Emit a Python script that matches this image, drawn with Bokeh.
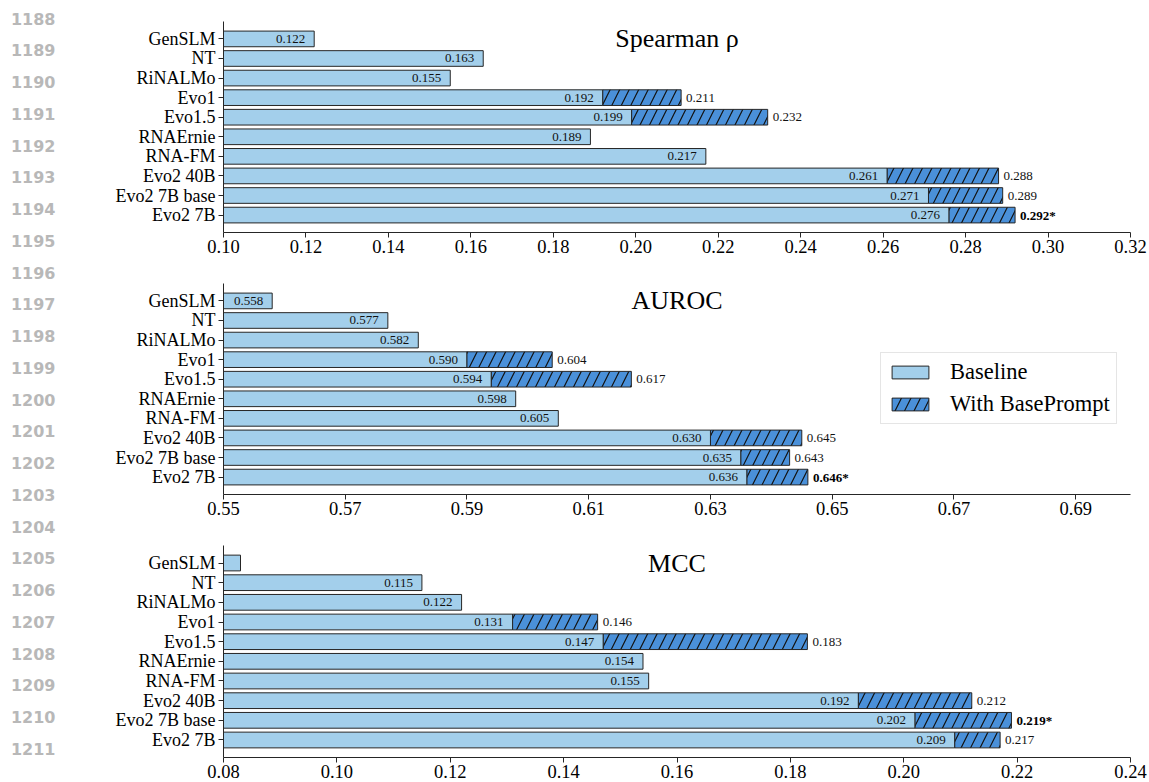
from bokeh.plotting import figure
from bokeh.layouts import row, column
from bokeh.models import (Range1d, FixedTicker, Legend, LegendItem,
                          NumeralTickFormatter, ColumnDataSource)
from bokeh.core.properties import value
from bokeh.embed import file_html
from bokeh.resources import INLINE

# ---------------- data ----------------
models = ["GenSLM", "NT", "RiNALMo", "Evo1", "Evo1.5", "RNAErnie", "RNA-FM",
          "Evo2 40B", "Evo2 7B base", "Evo2 7B"]

spearman_base = [0.122, 0.163, 0.155, 0.192, 0.199, 0.189, 0.217, 0.261, 0.271, 0.276]
spearman_prompt = [None, None, None, 0.211, 0.232, None, None, 0.288, 0.289, 0.292]
spearman_ticks = [0.10, 0.12, 0.14, 0.16, 0.18, 0.20, 0.22, 0.24, 0.26, 0.28, 0.30, 0.32]
spearman_xlim = [0.10, 0.32]

auroc_base = [0.558, 0.577, 0.582, 0.590, 0.594, 0.598, 0.605, 0.630, 0.635, 0.636]
auroc_prompt = [None, None, None, 0.604, 0.617, None, None, 0.645, 0.643, 0.646]
auroc_ticks = [0.55, 0.57, 0.59, 0.61, 0.63, 0.65, 0.67, 0.69]
auroc_xlim = [0.55, 0.699]

mcc_base = [0.083, 0.115, 0.122, 0.131, 0.147, 0.154, 0.155, 0.192, 0.202, 0.209]
mcc_prompt = [None, None, None, 0.146, 0.183, None, None, 0.212, 0.219, 0.217]
mcc_ticks = [0.08, 0.10, 0.12, 0.14, 0.16, 0.18, 0.20, 0.22, 0.24]
mcc_xlim = [0.08, 0.24]

titles = ["Spearman ρ", "AUROC", "MCC"]
line_numbers = list(range(1188, 1212))

# ---------------- style ----------------
SERIF = "Liberation Serif"
BASE_COLOR = "#a3cfeb"
PROMPT_COLOR = "#4a90d9"
EDGE = "#262626"
AX = "#262626"
LN_W = 60
PW = 1149 - LN_W

panels = [
    (titles[0], spearman_base, spearman_prompt, spearman_ticks, spearman_xlim),
    (titles[1], auroc_base, auroc_prompt, auroc_ticks, auroc_xlim),
    (titles[2], mcc_base, mcc_prompt, mcc_ticks, mcc_xlim),
]
heights = [262, 262, 258]
borders_bottom = [30, 30, 25]


def make_panel(k):
    title, base, prompt, ticks, xlim = panels[k]
    n = len(models)
    idx = list(range(n))
    p = figure(width=PW, height=heights[k],
               x_range=Range1d(xlim[0], xlim[1]),
               y_range=Range1d(n - 1 + 0.89, -0.89),
               output_backend="svg", toolbar_location=None,
               min_border_left=163, min_border_right=19,
               min_border_top=21, min_border_bottom=borders_bottom[k])
    p.outline_line_color = None
    p.xgrid.visible = False
    p.ygrid.visible = False
    p.background_fill_color = "white"

    bsrc = ColumnDataSource(dict(y=idx, left=[xlim[0] - 1] * n, right=base))
    rb = p.hbar(y="y", left="left", right="right", height=0.8, source=bsrc,
                fill_color=BASE_COLOR, line_color=EDGE, line_width=1)

    py = [i for i in idx if prompt[i] is not None]
    psrc = ColumnDataSource(dict(y=py, left=[base[i] for i in py],
                                 right=[prompt[i] for i in py]))
    rp = p.hbar(y="y", left="left", right="right", height=0.8, source=psrc,
                fill_color=PROMPT_COLOR, line_color=EDGE, line_width=1,
                hatch_pattern="/", hatch_color="#111111", hatch_weight=1.2,
                hatch_scale=19)

    # baseline value labels (inside bars, right aligned)
    span = xlim[1] - xlim[0]
    lab_i = [i for i in idx if base[i] - xlim[0] > 0.04 * span]
    p.text(x=[base[i] for i in lab_i], y=lab_i,
           text=[f"{base[i]:.3f}" for i in lab_i],
           x_offset=-9, text_align="right", text_baseline="middle",
           text_font=value(SERIF), text_font_size="13px", text_color="#111111")

    # prompt value labels
    best = max(v for v in prompt if v is not None)
    norm_i = [i for i in py if prompt[i] != best]
    best_i = [i for i in py if prompt[i] == best]
    p.text(x=[prompt[i] for i in norm_i], y=norm_i,
           text=[f"{prompt[i]:.3f}" for i in norm_i],
           x_offset=5, text_align="left", text_baseline="middle",
           text_font=value(SERIF), text_font_size="13px", text_color="#111111")
    p.text(x=[prompt[i] for i in best_i], y=best_i,
           text=[f"{prompt[i]:.3f}*" for i in best_i],
           x_offset=5, text_align="left", text_baseline="middle",
           text_font=value(SERIF), text_font_size="13px", text_color="black",
           text_font_style="bold")

    # title inside the axes
    p.text(x=[(xlim[0] + xlim[1]) / 2], y=[0], text=[title],
           text_align="center", text_baseline="middle",
           text_font=value(SERIF), text_font_size="26px", text_color="black")

    xa = p.xaxis[0]
    xa.ticker = FixedTicker(ticks=ticks)
    xa.formatter = NumeralTickFormatter(format="0.00")
    xa.major_label_text_font = SERIF
    xa.major_label_text_font_size = "18.5px"
    xa.major_label_text_color = "black"
    xa.axis_line_color = AX
    xa.major_tick_line_color = AX
    xa.major_tick_out = 5
    xa.major_tick_in = 0
    xa.minor_tick_line_color = None
    xa.major_label_standoff = 2
    xa.axis_label_standoff = 0

    ya = p.yaxis[0]
    ya.ticker = FixedTicker(ticks=idx)
    ya.major_label_overrides = {i: m for i, m in zip(idx, models)}
    ya.major_label_text_font = SERIF
    ya.major_label_text_font_size = "18px"
    ya.major_label_text_color = "black"
    ya.axis_line_color = AX
    ya.major_tick_line_color = AX
    ya.major_tick_out = 5
    ya.major_tick_in = 0
    ya.minor_tick_line_color = None
    ya.major_label_standoff = 3

    if k == 1:
        legend = Legend(items=[LegendItem(label="Baseline", renderers=[rb]),
                               LegendItem(label="With BasePrompt", renderers=[rp])],
                        location=(657, 70))
        legend.label_text_font = SERIF
        legend.label_text_font_size = "22.5px"
        legend.label_text_color = "black"
        legend.glyph_width = 46
        legend.glyph_height = 16
        legend.label_height = 20
        legend.label_standoff = 17
        legend.spacing = 6
        legend.padding = 6
        legend.margin = 0
        legend.border_line_color = "#cccccc"
        legend.border_line_width = 1
        legend.background_fill_alpha = 0.85
        p.add_layout(legend)
    return p


figs = [make_panel(k) for k in range(3)]

# page line numbers on the left margin
ln = figure(width=LN_W, height=782, x_range=Range1d(0, LN_W),
            y_range=Range1d(782, 0), output_backend="svg", toolbar_location=None,
            x_axis_location=None, y_axis_location=None, min_border=0)
ln.outline_line_color = None
ln.xgrid.visible = False
ln.ygrid.visible = False
ln.text(x=[55] * len(line_numbers),
        y=[18 + (v - line_numbers[0]) * 31.75 for v in line_numbers],
        text=[str(v) for v in line_numbers],
        text_align="right", text_baseline="middle",
        text_font=value("DejaVu Sans"), text_font_style="bold",
        text_font_size="16px", text_color="#b8b8b8")

layout = row(ln, column(*figs, spacing=0), spacing=0)
open("out.html", "w").write(file_html(layout, INLINE))
